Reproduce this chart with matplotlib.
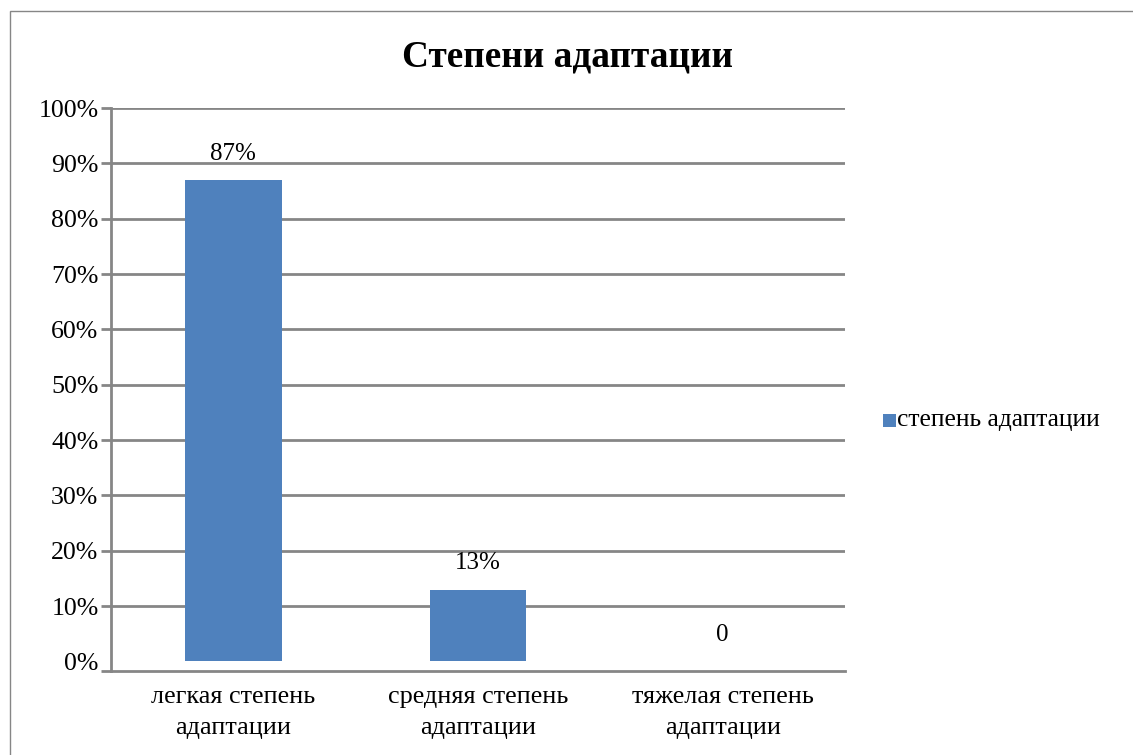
import matplotlib
matplotlib.use("Agg")
import matplotlib.pyplot as plt
from matplotlib.patches import Rectangle
from matplotlib.ticker import FixedLocator, FixedFormatter

categories = ["легкая степень\nадаптации", "средняя степень\nадаптации", "тяжелая степень\nадаптации"]
values = [0.87, 0.13, 0.0]
value_labels = ["87%", "13%", "0"]
yticks = [0.0, 0.1, 0.2, 0.3, 0.4, 0.5, 0.6, 0.7, 0.8, 0.9, 1.0]
ytick_labels = ["0%", "10%", "20%", "30%", "40%", "50%", "60%", "70%", "80%", "90%", "100%"]
series_name = "степень адаптации"
title = "Степени адаптации"

plt.rcParams['font.family'] = ['Liberation Serif', 'DejaVu Serif']

W, H = 1133, 755
fig = plt.figure(figsize=(W / 100, H / 100), dpi=100)
fig.patch.set_facecolor("white")

# outer chart frame (left and top visible)
fig.add_artist(Rectangle((10 / W, -0.05), 1.2, 1 - 11 / H + 0.05, transform=fig.transFigure,
                         fill=False, edgecolor="#868686", linewidth=1.0))

ax = fig.add_axes([111 / W, 1 - 671 / H, (845 - 111) / W, (671 - 108) / H])
grid_color = "#868686"
y_bottom = -0.0172
x = list(range(len(categories)))
ax.bar(x, values, width=0.396, color="#4F81BD", edgecolor="none", zorder=3)

ax.set_xlim(-0.5, len(categories) - 0.5)
ax.set_ylim(y_bottom, 1.0)
# major ticks: marks at axis bottom and 10%..100%; "0%" label without a mark
ax.yaxis.set_major_locator(FixedLocator([y_bottom] + yticks[1:]))
ax.yaxis.set_major_formatter(FixedFormatter([""] + ytick_labels[1:]))
ax.yaxis.set_minor_locator(FixedLocator(yticks[:1]))
ax.yaxis.set_minor_formatter(FixedFormatter(ytick_labels[:1]))
ax.set_xticks(x)
ax.set_xticklabels(categories, fontsize=18.8, linespacing=1.5)
ax.tick_params(axis='x', length=0, pad=11)
ax.tick_params(axis='y', which='major', length=7, width=2, color=grid_color, labelsize=18.6, pad=2)
ax.tick_params(axis='y', which='minor', length=0, labelsize=18.6, pad=9)

for yt in yticks[1:]:
    ax.axhline(yt, color=grid_color, linewidth=2.0, zorder=1)

for s in ["top", "right"]:
    ax.spines[s].set_visible(False)
ax.spines["left"].set_color(grid_color)
ax.spines["left"].set_linewidth(2.0)
ax.spines["bottom"].set_color(grid_color)
ax.spines["bottom"].set_linewidth(2.0)
ax.set_facecolor("none")

for xi, v, lab in zip(x, values, value_labels):
    ax.annotate(lab, xy=(xi, v), xytext=(0, 11), textcoords="offset points",
                ha="center", va="bottom", fontsize=18)

fig.text(568 / W, 1 - 57 / H, title, ha="center", va="center", fontsize=26.8, fontweight="bold")

# legend
fig.add_artist(Rectangle((883 / W, 1 - 427 / H), 13 / W, 13 / H, transform=fig.transFigure,
                         facecolor="#4F81BD", edgecolor="none"))
fig.text(897 / W, 1 - 420 / H, series_name, ha="left", va="center", fontsize=18.4)

fig.savefig("out.png", dpi=100, facecolor="white")
